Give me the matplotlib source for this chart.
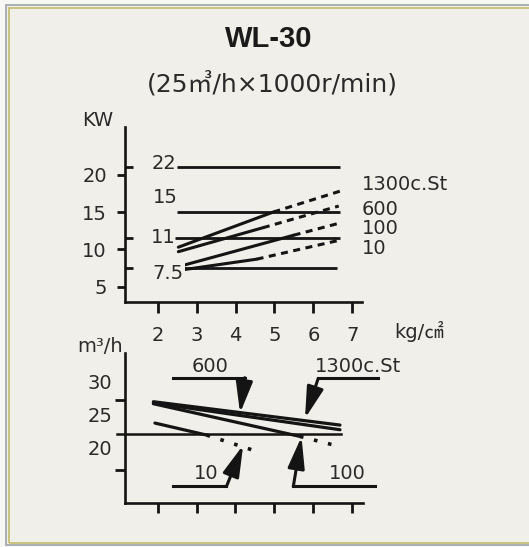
import matplotlib.pyplot as plt
from matplotlib.patches import Rectangle

plt.rcParams['font.family'] = ['DejaVu Sans', 'Noto Sans CJK JP']

W, H = 529, 547

# --- top chart: shaft power (KW) vs pressure (kg/cm2)
motor_kw = [21.0, 15.0, 11.5, 7.5]
motor_labels = ['22', '15', '11', '7.5']
motor_x = [[2.49, 6.68], [2.49, 6.68], [2.45, 6.68], [2.44, 6.6]]

visc_labels = ['1300c.St', '600', '100', '10']
# each curve: start, end of solid part, end of dashed part
kw_x = [[2.53, 4.97, 6.69], [2.53, 4.70, 6.65], [2.53, 5.49, 6.73], [2.53, 4.54, 6.64]]
kw_y = [[10.3, 15.0, 17.8], [9.7, 12.9, 15.8], [7.7, 11.9, 13.6], [7.2, 8.7, 11.2]]

# --- bottom chart: capacity (m3/h) vs pressure
q_x = [[1.89, 6.69, 6.69], [1.89, 6.69, 6.69], [1.89, 5.66, 6.60], [1.93, 3.26, 4.63]]
q_y = [[26.9, 23.4, 23.4], [26.7, 22.7, 22.7], [26.6, 21.7, 20.3], [23.7, 21.9, 19.3]]
rated_q = 22.0

pressure_ticks = [2, 3, 4, 5, 6, 7]

ink = '#141414'
txt = '#2a2a2a'

fig = plt.figure(figsize=(W / 100, H / 100), dpi=100, facecolor='#f7f7f4')

# frame
fig.patches.append(Rectangle((6 / W, 1 - 545 / H), 560 / W, 540 / H, transform=fig.transFigure,
                             facecolor='#f0efea', edgecolor='#9ea4ab', lw=1.2, zorder=-5))
fig.patches.append(Rectangle((8.5 / W, 1 - 542.5 / H), 560 / W, 535 / H, transform=fig.transFigure,
                             facecolor='none', edgecolor='#c2bc6a', lw=1.2, zorder=-4))

fig.text(269 / W, 1 - 39 / H, 'WL-30', ha='center', va='center', fontsize=21, color='#1a1a1a',
         family=['Liberation Sans'], fontweight='bold')
fig.text(272 / W, 1 - 84 / H, '(25㎥/h×1000r/min)', ha='center', va='center', fontsize=18,
         color=txt)


def setup(ax, xlim, ylim):
    ax.set_facecolor('none')
    ax.set_xlim(*xlim)
    ax.set_ylim(*ylim)
    for s in ['top', 'right']:
        ax.spines[s].set_visible(False)
    for s in ['left', 'bottom']:
        ax.spines[s].set_linewidth(1.9)
        ax.spines[s].set_color(ink)
    ax.set_xticks(pressure_ticks)


# top axes
ax1 = fig.add_axes([125 / W, 1 - 302 / H, 236.7 / W, 175.3 / H])
setup(ax1, (1.16, 7.24), (2.98, 26.4))
ax1.set_xticklabels([str(t) for t in pressure_ticks])
ax1.set_yticks([5, 10, 15, 20])
ax1.set_yticks(motor_kw, minor=True)
ax1.tick_params(axis='x', length=8, width=2, pad=9, labelsize=14, colors=ink, labelcolor=txt)
ax1.tick_params(axis='y', which='major', length=6, width=2, pad=7, labelsize=14, colors=ink, labelcolor=txt)
ax1.tick_params(axis='y', which='minor', direction='in', length=6, width=2, colors=ink)

for y, xs, lab in zip(motor_kw, motor_x, motor_labels):
    ax1.plot(xs, [y, y], color=ink, lw=2.0, solid_capstyle='butt')

label_y = [21.5, 16.9, 11.6, 6.8]
label_x = [2.16, 2.19, 2.15, 2.27]
for lx, ly, lab in zip(label_x, label_y, motor_labels):
    ax1.text(lx, ly, lab, ha='center', va='center', fontsize=14, color=txt,
             bbox=dict(facecolor='#f0efea', edgecolor='none', pad=0.5) if lab == '7.5' else None)

for xs, ys in zip(kw_x, kw_y):
    ax1.plot(xs[:2], ys[:2], color=ink, lw=2.2, solid_capstyle='round')
    ax1.plot(xs[1:], ys[1:], color=ink, lw=2.2, linestyle=(0, (2.3, 1.8)))

right_y = [18.7, 15.3, 12.8, 10.15]
for ry, lab in zip(right_y, visc_labels):
    ax1.text(7.24, ry, lab, ha='left', va='center', fontsize=14, color=txt, clip_on=False)

fig.text(97.5 / W, 1 - 120 / H, 'KW', ha='center', va='center', fontsize=14, color=txt)
fig.text(419 / W, 1 - 331 / H, 'kg/㎠', ha='center', va='center', fontsize=14, color=txt)

# bottom axes
ax2 = fig.add_axes([125 / W, 1 - 502.7 / H, 238.3 / W, 149.4 / H])
setup(ax2, (1.16, 7.29), (11.76, 34.16))
ax2.set_xticklabels([])
ax2.set_yticks([20, 25, 30])
ax2.set_yticks([16.6, 27.2], minor=True)
ax2.tick_params(axis='x', length=7, width=2, colors=ink)
ax2.tick_params(axis='y', which='major', length=0, pad=9, labelsize=14, labelcolor=txt)
ax2.tick_params(axis='y', which='minor', length=7, width=2, colors=ink)

ax2.plot([0.95, 6.72], [rated_q, rated_q], color=ink, lw=1.8, clip_on=False)

for xs, ys in zip(q_x, q_y):
    ax2.plot(xs[:2], ys[:2], color=ink, lw=2.3, solid_capstyle='round')
    if xs[2] > xs[1]:
        ax2.plot(xs[1:], ys[1:], color=ink, lw=2.6, linestyle=(0, (1, 3)))

# callouts: label, label position, far end of leader, bend, arrow tip
callouts = [
    ('600', (3.34, 32.15), 2.40, (4.24, 30.5), (4.12, 25.2)),
    ('1300c.St', (7.16, 32.15), 7.67, (6.13, 30.4), (5.79, 24.4)),
    ('10', (3.24, 16.2), 2.40, (3.77, 14.2), (4.2, 20.4)),
    ('100', (6.88, 16.2), 7.59, (5.49, 14.2), (5.7, 21.65)),
]
for lab, lp, xend, bend, tip in callouts:
    ax2.text(lp[0], lp[1], lab, ha='center', va='center', fontsize=14, color=txt, clip_on=False)
    ax2.plot([xend, bend[0]], [bend[1], bend[1]], color=ink, lw=2.2, clip_on=False,
             solid_capstyle='projecting')
    ax2.annotate('', xy=tip, xytext=bend,
                 arrowprops=dict(arrowstyle='-|>,head_length=1.2,head_width=0.32',
                                 mutation_scale=16, lw=2.2, color=ink,
                                 shrinkA=0, shrinkB=0))

fig.text(100 / W, 1 - 346.5 / H, 'm³/h', ha='center', va='center', fontsize=14, color=txt)

fig.savefig('out.png', dpi=100, facecolor=fig.get_facecolor())
